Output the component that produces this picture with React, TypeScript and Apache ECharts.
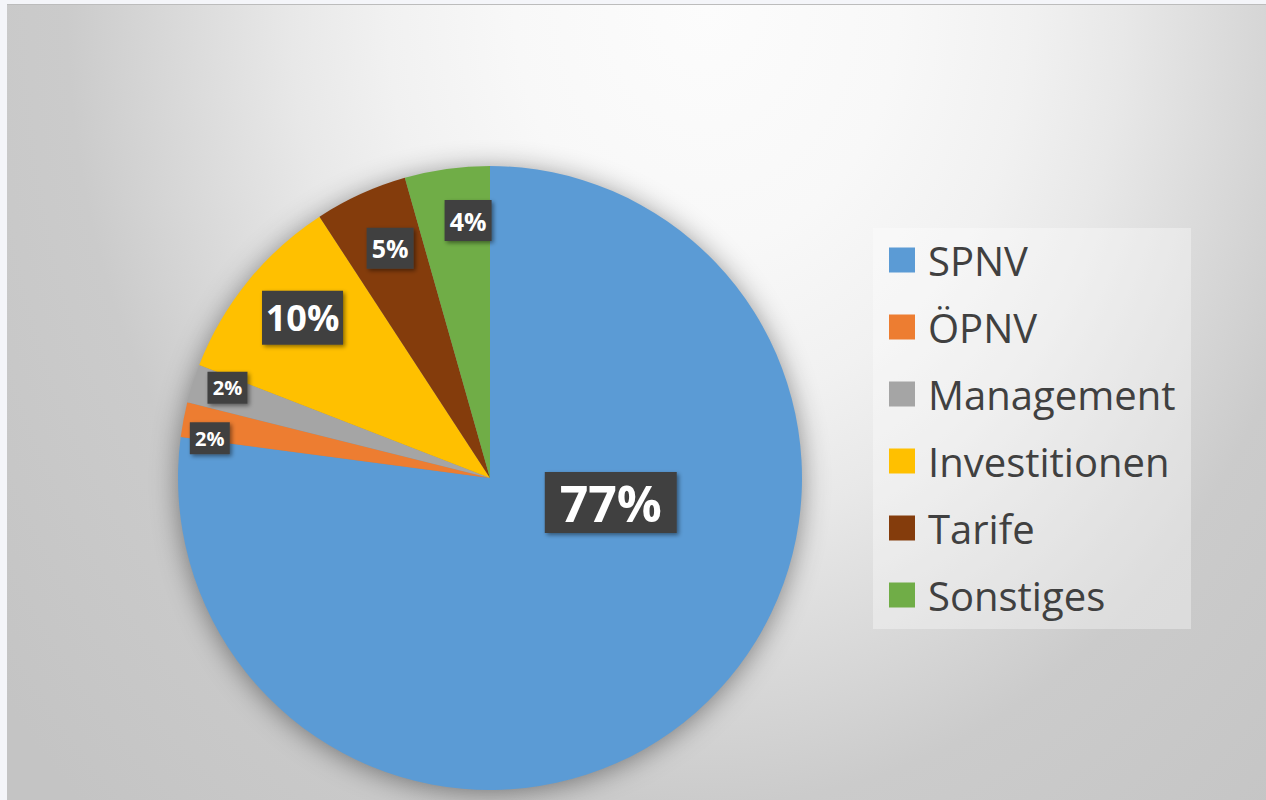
import React, { useEffect, useRef } from "react";
import * as echarts from "echarts";

// ---- data ----
const categories = ["SPNV", "ÖPNV", "Management", "Investitionen", "Tarife", "Sonstiges"];
const shares = [77.1, 1.8, 2.0, 9.9, 4.8, 4.4];
const colors = ["#5b9bd5", "#ed7d31", "#a5a5a5", "#ffc000", "#843c0c", "#70ad47"];

// ---- label styling (per slice) ----
const labelFontSize = [50, 20, 20, 36, 25, 25];
const labelBoxW = [132, 40, 40, 81, 47, 47];
const labelBoxH = [61, 32, 32, 54, 41, 41];
const labelShift: [number, number][] = [
  [16, -95],
  [-124, -10],
  [-111, -42],
  [-64, -60],
  [-34, -85],
  [0, -100],
];

const CENTER: [number, number] = [483, 473];
const RADIUS = 312;

export default function App() {
  const ref = useRef<HTMLDivElement>(null);

  useEffect(() => {
    document.body.style.background = "#f4f5f9";
    const chart = echarts.init(ref.current!, null, { renderer: "svg" });

    const data = categories.map((name, i) => ({
      name,
      value: shares[i],
      itemStyle: { color: colors[i] },
      label: {
        fontSize: labelFontSize[i],
        width: labelBoxW[i],
        height: labelBoxH[i],
        lineHeight: labelBoxH[i],
        offset: labelShift[i],
      },
    }));

    chart.setOption({
      animation: false,
      backgroundColor: "transparent",
      legend: {
        data: categories,
        orient: "vertical",
        left: 882,
        top: 233,
        padding: 0,
        itemWidth: 26,
        itemHeight: 25,
        itemGap: 23,
        icon: "rect",
        z: 10,
        selectedMode: false,
        textStyle: {
          fontFamily: "Open Sans",
          fontSize: 40,
          lineHeight: 44,
          color: "#404040",
          padding: [0, 0, 0, 8],
        },
      },
      graphic: [
        {
          type: "rect",
          z: 0,
          shape: { x: 866, y: 223, width: 318, height: 401 },
          style: { fill: "rgba(255,255,255,0.35)" },
          silent: true,
        },
      ],
      series: [
        {
          type: "pie",
          name: "shadow",
          center: CENTER,
          radius: RADIUS - 1,
          silent: true,
          z: 1,
          startAngle: 90,
          data: [{ value: 1, name: "_bg" }],
          itemStyle: {
            color: "#8a8a8a",
            shadowBlur: 28,
            shadowColor: "rgba(0,0,0,0.45)",
            shadowOffsetY: 3,
          },
          label: { show: false },
          labelLine: { show: false },
        },
        {
          type: "pie",
          name: "Anteile",
          center: CENTER,
          radius: RADIUS,
          z: 2,
          startAngle: 90,
          clockwise: true,
          avoidLabelOverlap: false,
          itemStyle: { borderWidth: 0 },
          label: {
            show: true,
            position: "inside",
            formatter: (p: any) => `${Math.round(p.percent)}%`,
            color: "#ffffff",
            fontFamily: "Open Sans",
            fontWeight: "bold",
            backgroundColor: "#404040",
            align: "center",
            verticalAlign: "middle",
            padding: 0,
            shadowBlur: 4,
            shadowOffsetX: 2,
            shadowOffsetY: 2,
            shadowColor: "rgba(0,0,0,0.45)",
          },
          labelLine: { show: false },
          data,
        },
      ],
    });

    return () => chart.dispose();
  }, []);

  return (
    <div
      style={{
        position: "absolute",
        left: 7,
        top: 4,
        width: 1259,
        height: 796,
        boxSizing: "border-box",
        borderTop: "1px solid #bcbcbc",
        background:
          "radial-gradient(ellipse 640px 800px at 700px 0px, #fcfcfc 0%, #f8f8f8 30%, #f1f1f1 50%, #e8e8e8 65%, #d5d5d5 88%, #cbcbcb 100%, #c4c4c4 140%)",
      }}
    >
      <div ref={ref} style={{ width: "100%", height: "100%" }} />
    </div>
  );
}
